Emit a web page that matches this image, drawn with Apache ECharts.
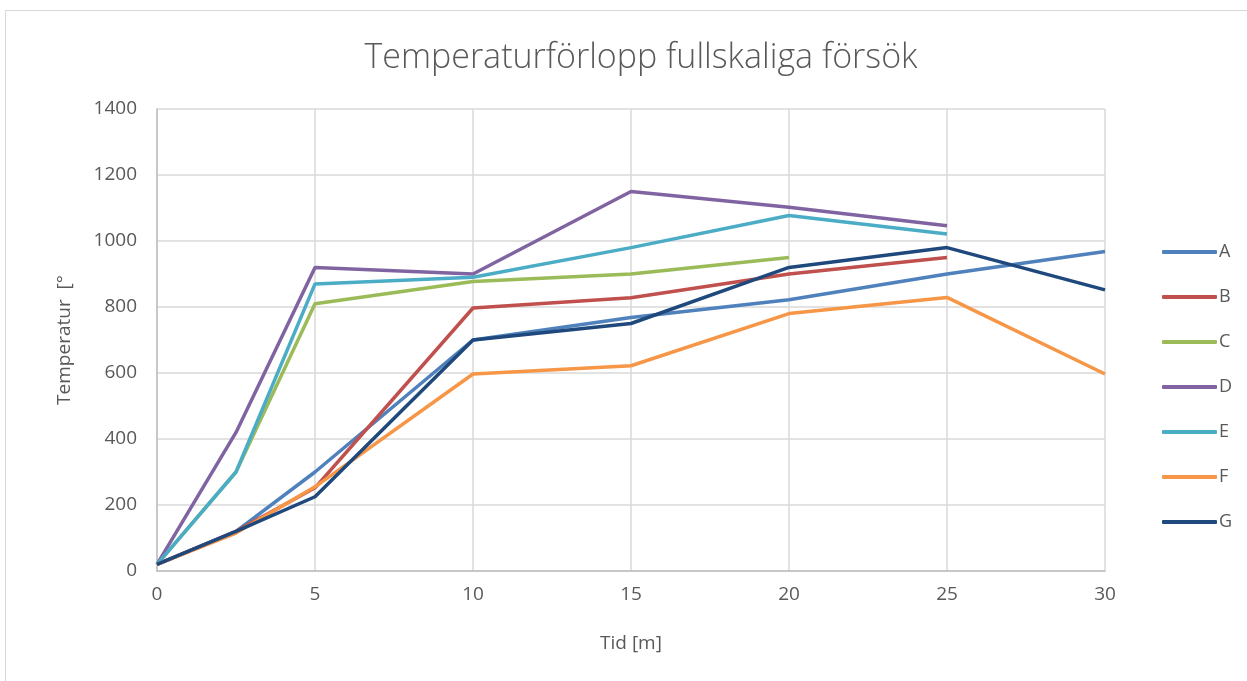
<!DOCTYPE html>
<html>
<head>
<meta charset="utf-8">
<script src="https://cdn.jsdelivr.net/npm/echarts@6/dist/echarts.min.js"></script>
<style>
  html, body { margin: 0; padding: 0; background: #fff; }
  #frame { position: absolute; left: 5px; top: 10px; width: 1250px; height: 680px; border: 1px solid #d9d9d9; box-sizing: border-box; }
  #chart { position: absolute; left: 0; top: 0; width: 1247px; height: 681px; }
</style>
</head>
<body>
<div id="frame"></div>
<div id="chart"></div>
<script>
// tid [m]
const tid = [0, 2.5, 5, 10, 15, 20, 25, 30]
const names = ['A', 'B', 'C', 'D', 'E', 'F', 'G']
const colors = ['#4F81BD', '#C0504D', '#9BBB59', '#8064A2', '#4BACC6', '#F79646', '#1F497D']

// temperatur per försök (null = ingen mätning)
const A = [20, 120, 300, 700, 768, 822, 900, 968]
const B = [20, 120, 252, 797, 828, 900, 950, null]
const C = [20, 300, 810, 877, 900, 950, null, null]
const D = [20, 420, 920, 900, 1150, 1102, 1046, null]
const E = [20, 300, 870, 890, 980, 1077, 1021, null]
const F = [20, 115, 255, 597, 622, 780, 829, 597]
const G = [20, 120, 225, 700, 750, 920, 980, 852]
const allValues = [A, B, C, D, E, F, G]

const textColor = '#595959'
const font = 'Open Sans, Liberation Sans, sans-serif'

const series = names.map((name, i) => ({
  name: name,
  type: 'line',
  symbol: 'none',
  data: tid.map((t, j) => [t, allValues[i][j]]).filter(p => p[1] !== null),
  lineStyle: { width: 3.5, color: colors[i] },
  itemStyle: { color: colors[i] },
  z: 2 + i,
}))

const option = {
  animation: false,
  title: {
    text: 'Temperaturförlopp fullskaliga försök',
    left: 636,
    top: 36,
    textAlign: 'center',
    textStyle: { fontFamily: font, fontSize: 34, fontWeight: 300, color: textColor },
  },
  legend: {
    orient: 'vertical',
    left: 1157,
    top: 235,
    icon: 'roundRect',
    itemWidth: 55,
    itemHeight: 4,
    itemGap: 21,
    data: names,
    textStyle: { fontFamily: font, fontSize: 18, color: textColor, padding: [0, 0, 0, -3], lineHeight: 24 },
  },
  grid: { left: 157, right: 142, top: 109, bottom: 110, containLabel: false },
  xAxis: {
    type: 'value',
    min: 0,
    max: 30,
    interval: 5,
    name: 'Tid [m]',
    nameLocation: 'middle',
    nameGap: 63,
    nameTextStyle: { fontFamily: font, fontSize: 19, color: textColor },
    axisLine: { show: true, lineStyle: { color: '#BFBFBF', width: 1.5 } },
    axisTick: { show: false },
    axisLabel: { fontFamily: font, fontSize: 19, color: textColor, margin: 14 },
    splitLine: { show: true, lineStyle: { color: '#D9D9D9', width: 1.5 } },
  },
  yAxis: {
    type: 'value',
    min: 0,
    max: 1400,
    interval: 200,
    name: 'Temperatur  [°',
    nameLocation: 'middle',
    nameGap: 83,
    nameTextStyle: { fontFamily: font, fontSize: 19, color: textColor },
    axisLine: { show: true, lineStyle: { color: '#BFBFBF', width: 1.5 } },
    axisTick: { show: false },
    axisLabel: { fontFamily: font, fontSize: 19, color: textColor, margin: 20, formatter: v => String(v) },
    splitLine: { show: true, lineStyle: { color: '#D9D9D9', width: 1.5 } },
  },
  series: series,
}

const chart = echarts.init(document.getElementById('chart'))
chart.setOption(option)
</script>
</body>
</html>
